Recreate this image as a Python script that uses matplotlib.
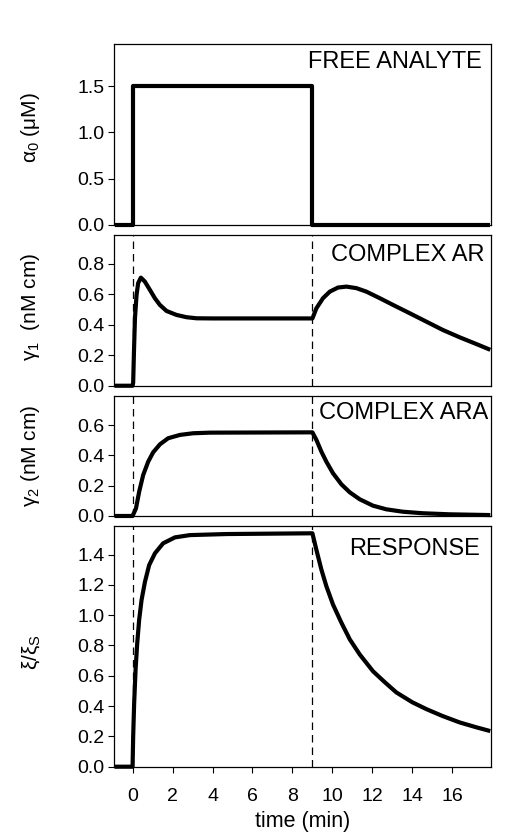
import matplotlib
matplotlib.use("Agg")
import matplotlib.pyplot as plt

plt.rcParams["font.family"] = ["Liberation Sans", "DejaVu Sans"]
plt.rcParams["mathtext.fontset"] = "custom"
plt.rcParams["mathtext.rm"] = "Liberation Sans"
plt.rcParams["mathtext.it"] = "Liberation Sans"

# Free analyte pulse
t_free = [-0.9, 0.0, 0.0, 9.0, 9.0, 17.9]
free = [0, 0, 1.5, 1.5, 0, 0]

# Complex AR
t_ar = [-0.9, 0.0, 0.03, 0.07, 0.12, 0.2, 0.28, 0.415, 0.615, 0.865, 1.115, 1.365,
        1.7, 2.2, 2.7, 3.2, 4.0, 9.0, 9.2, 9.53, 9.87, 10.28, 10.7, 11.2, 11.7,
        12.37, 13.03, 13.87, 14.7, 15.53, 16.37, 17.2, 17.9]
ar = [0, 0, 0.02, 0.224, 0.445, 0.597, 0.674, 0.71, 0.684, 0.63, 0.575, 0.531,
      0.491, 0.465, 0.45, 0.443, 0.442, 0.442, 0.509, 0.575, 0.618, 0.645, 0.651,
      0.641, 0.618, 0.575, 0.531, 0.476, 0.421, 0.366, 0.318, 0.274, 0.236]

# Complex ARA
t_ara = [-0.9, 0.0, 0.17, 0.33, 0.53, 0.78, 1.03, 1.37, 1.78, 2.37, 3.03, 3.87,
         9.0, 9.2, 9.45, 9.7, 10.03, 10.45, 10.87, 11.37, 12.03, 12.7, 13.53,
         14.53, 15.87, 17.9]
ara = [0, 0, 0.05, 0.16, 0.27, 0.358, 0.42, 0.473, 0.513, 0.535, 0.546, 0.55,
       0.552, 0.502, 0.424, 0.358, 0.282, 0.209, 0.156, 0.11, 0.068, 0.044, 0.028,
       0.018, 0.011, 0.006]

# Response
t_resp = [-0.9, 0.0, 0.03, 0.08, 0.15, 0.23, 0.33, 0.45, 0.62, 0.83, 1.12, 1.53,
          2.12, 2.87, 4.7, 9.0, 9.2, 9.45, 9.7, 10.03, 10.45, 10.87, 11.37, 12.03,
          12.6, 13.2, 14.0, 14.7, 15.5, 16.37, 17.2, 17.9]
resp = [0, 0, 0.2, 0.42, 0.64, 0.81, 0.97, 1.10, 1.22, 1.33, 1.408, 1.474,
        1.513, 1.528, 1.535, 1.54, 1.43, 1.30, 1.19, 1.07, 0.95, 0.84, 0.74,
        0.63, 0.56, 0.49, 0.425, 0.38, 0.335, 0.292, 0.26, 0.235]

xticks = [0, 2, 4, 6, 8, 10, 12, 14, 16]
pulse_edges = [0, 9]

fig = plt.figure(figsize=(5.1, 8.36), dpi=100)
left, width = 0.2235, 0.739
ax1 = fig.add_axes([left, 0.7309, width, 0.2165])
ax2 = fig.add_axes([left, 0.5386, width, 0.1803])
ax3 = fig.add_axes([left, 0.3828, width, 0.1439])
ax4 = fig.add_axes([left, 0.0829, width, 0.2879])

panels = [
    (ax1, t_free, free, 1.955, [0, 0.5, 1.0, 1.5], r"$\mathregular{\alpha_0}$ (μM)",
     "FREE ANALYTE", (-6.5, -12.7), 0.54),
    (ax2, t_ar, ar, 0.99, [0, 0.2, 0.4, 0.6, 0.8], r"$\mathregular{\gamma_1}$  (nM cm)",
     "COMPLEX AR", (-4.3, -14.4), 0.524),
    (ax3, t_ara, ara, 0.794, [0, 0.2, 0.4, 0.6], r"$\mathregular{\gamma_2}$ (nM cm)",
     "COMPLEX ARA", (-2.2, -12.5), 0.5),
    (ax4, t_resp, resp, 1.588, [0, 0.2, 0.4, 0.6, 0.8, 1.0, 1.2, 1.4],
     r"$\mathregular{\xi/\xi_S}$", "RESPONSE", (-8, -16.6), 0.476),
]

for ax, t, y, ytop, yt, ylab, name, off, lab_y in panels:
    ax.plot(t, y, color="black", lw=3, clip_on=False, solid_capstyle="butt",
            solid_joinstyle="round", zorder=3)
    ax.set_xlim(-0.93, 17.93)
    ax.set_ylim(0, ytop)
    ax.set_yticks(yt)
    ax.set_yticklabels(["%.1f" % v for v in yt])
    ax.tick_params(axis="y", direction="out", length=4, width=0.8,
                   labelsize=14, pad=3)
    ax.set_ylabel(ylab, fontsize=15)
    ax.yaxis.set_label_coords(-0.19, lab_y)
    for s in ax.spines.values():
        s.set_linewidth(0.9)
    ax.annotate(name, xy=(1, 1), xycoords="axes fraction", xytext=off,
                textcoords="offset points", ha="right", va="center",
                fontsize=17)
    if ax is not ax1:
        for x in pulse_edges:
            ax.axvline(x, color="black", lw=0.9, ls=(0, (6, 4)), zorder=1)
    if ax is not ax4:
        ax.set_xticks([])

ax4.set_xticks(xticks)
ax4.set_xticklabels([str(v) for v in xticks])
ax4.tick_params(axis="x", direction="out", length=4.5, width=0.8,
                labelsize=14, pad=11)
ax4.set_xlabel("time (min)", fontsize=15.5, labelpad=4)

fig.savefig("out.png", dpi=100)
